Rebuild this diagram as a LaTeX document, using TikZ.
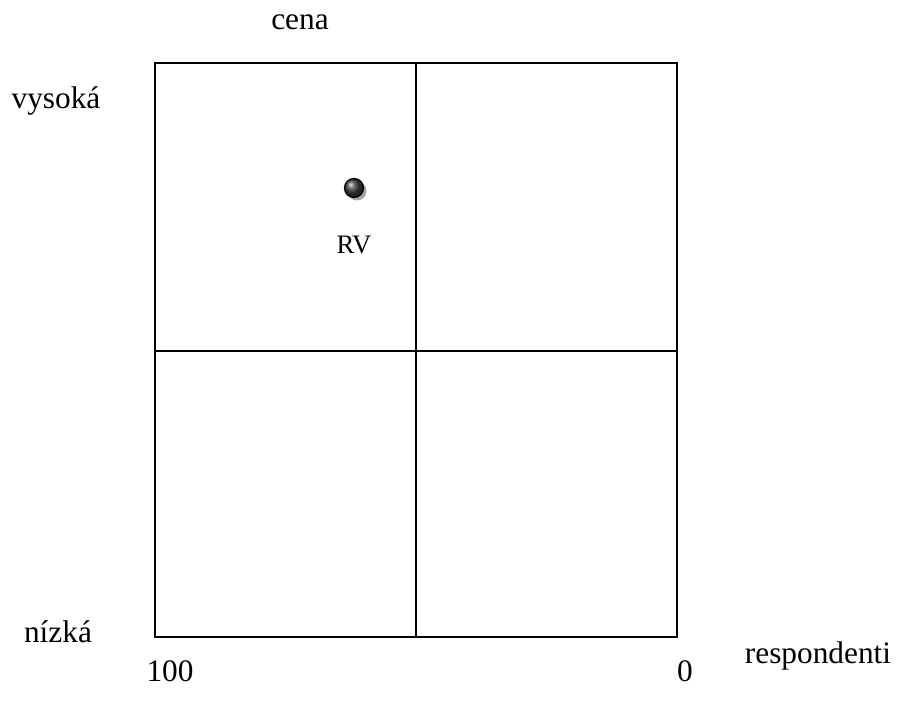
\documentclass[tikz,border=0pt]{standalone}
\usepackage{fontspec}
\setmainfont{Liberation Serif}
\begin{document}
\begin{tikzpicture}[x=0.75pt,y=-0.75pt,
  lbl/.style={font=\fontsize{23.5}{26}\selectfont, inner sep=0pt},
  grid/.style={line width=1.5pt, black}]
\useasboundingbox (0,0) rectangle (897,706);
\coordinate (tl) at (155,63);
\coordinate (br) at (677,637);
\coordinate (tm) at (416,63);
\coordinate (bm) at (416,637);
\coordinate (lm) at (155,351);
\coordinate (rm) at (677,351);
\draw[grid] (tl) rectangle (br);
\draw[grid] (tm) -- (bm);
\draw[grid] (lm) -- (rm);
\node[lbl] (cena) at (300,22) {cena};
\node[lbl] (vys) at (56,101) {vysoká};
\node[lbl] (niz) at (58,632) {nízká};
\node[lbl] (resp) at (818,656) {respondenti};
\node[lbl] (h) at (170,671) {100};
\node[lbl] (z) at (685,671) {0};
\fill[gray!70] (357,191) circle[radius=9.5];
\shade[ball color=black!75] (354,188) circle[radius=9.5];
\draw[black, line width=0.9pt] (354,188) circle[radius=9.5];
\node[lbl, font=\fontsize{20}{22}\selectfont] (rv) at (354,245) {RV};
\end{tikzpicture}
\end{document}
